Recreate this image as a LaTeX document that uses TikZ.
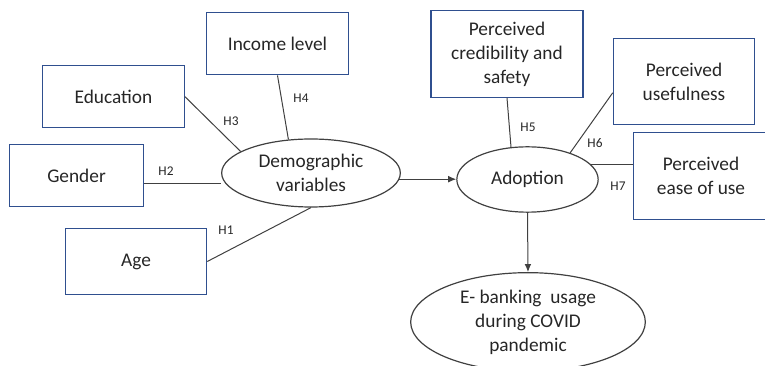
\documentclass[tikz,border=0pt]{standalone}
\usepackage{fontspec}
\setmainfont{Carlito}
\usetikzlibrary{shapes.geometric,arrows.meta}
\definecolor{boxblue}{HTML}{2F4F8F}
\definecolor{inkgray}{HTML}{262626}
\definecolor{linegray}{HTML}{404040}
\tikzset{
  varbox/.style={draw=boxblue,line width=0.9pt,text=inkgray,align=center,
    inner sep=0pt,font=\fontsize{14.5}{18}\selectfont},
  varoval/.style={ellipse,draw=linegray,line width=0.9pt,text=inkgray,align=center,
    inner sep=0pt,font=\fontsize{14.5}{18}\selectfont},
  link/.style={draw=linegray,line width=0.75pt},
  hlab/.style={text=inkgray,inner sep=0pt,font=\fontsize{10}{12}\selectfont}
}
\begin{document}
\begin{tikzpicture}[x=0.75pt,y=-0.75pt]
  \clip (0,0) rectangle (765,366);
  % predictors on the left
  \node[varbox,minimum width=106pt,minimum height=47pt] (income) at (277.5,43.5) {Income level};
  \node[varbox,minimum width=106pt,minimum height=47pt] (edu) at (113.5,96.5) {Education};
  \node[varbox,minimum width=101pt,minimum height=47pt] (gender) at (76.5,175.5) {Gender};
  \node[varbox,minimum width=106pt,minimum height=49pt] (age) at (136,261.5) {Age};
  % central variables
  \node[varoval,minimum width=134pt,minimum height=51pt] (demo) at (311,173) {Demographic\\variables};
  \node[varoval,minimum width=106pt,minimum height=49pt] (adopt) at (527.5,179.5) {Adoption};
  \node[varoval,minimum width=176pt,minimum height=74pt] (ebank) at (528,322) {E- banking\ \ usage\\during COVID\\pandemic};
  % predictors on the right
  \node[varbox,minimum width=114pt,minimum height=65pt] (cred) at (507,54) {Perceived\\credibility and\\safety};
  \node[varbox,minimum width=106pt,minimum height=65pt] (useful) at (684,81.5) {Perceived\\usefulness};
  \node[varbox,minimum width=101pt,minimum height=65pt] (ease) at (701,176) {Perceived\\ease of use};
  % hypotheses links
  \draw[link] (edu.east) -- (demo.163);
  \draw[link] (income.south) -- (demo.124);
  \draw[link] (gender.-7) -- (gender.-7 -| demo.west);
  \draw[link] (age.east) -- (demo.south);
  \draw[link] (cred.south) -- (adopt.117);
  \draw[link] (useful.189) -- (adopt.32);
  \draw[link] (adopt.13) -- (adopt.13 -| ease.west);
  \draw[link,-{Latex[length=6pt,width=5pt]}] (demo.-4) -- (demo.-4 -| adopt.west);
  \draw[link,-{Latex[length=6pt,width=5pt]}] (adopt.south) -- (ebank.north);
  % labels
  \node[hlab] (h1) at (226,230) {H1};
  \node[hlab] (h2) at (166,171) {H2};
  \node[hlab] (h3) at (231,121) {H3};
  \node[hlab] (h4) at (301,98) {H4};
  \node[hlab] (h5) at (528,127) {H5};
  \node[hlab] (h6) at (595,143) {H6};
  \node[hlab] (h7) at (618,186) {H7};
\end{tikzpicture}
\end{document}
